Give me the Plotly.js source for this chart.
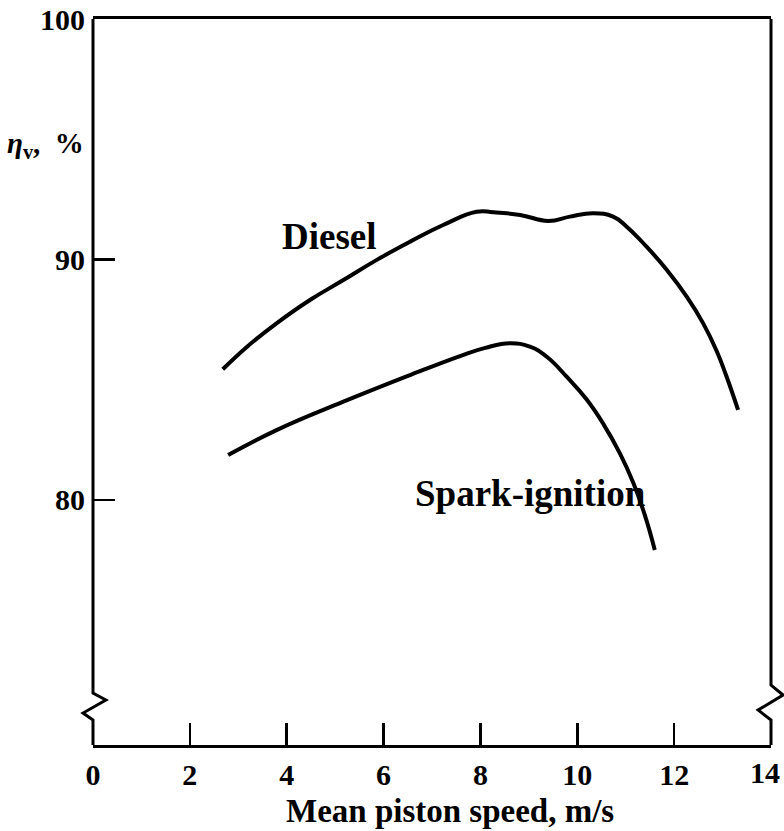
<!DOCTYPE html>
<html>
<head>
<meta charset="utf-8">
<script src="https://cdn.plot.ly/plotly-3.0.1.min.js"></script>
<style>html,body{margin:0;padding:0;background:#fff;}#chart{width:784px;height:831px;}</style>
</head>
<body>
<div id="chart"></div>
<script>
// Data
const dieselSpeed = [2.68, 3.20, 3.79, 4.48, 5.17, 5.86, 6.55, 7.23, 7.92, 8.27, 8.82, 9.40, 9.85, 10.33, 10.74, 11.02, 11.43, 11.85, 12.26, 12.60, 12.88, 13.08, 13.32];
const dieselEff   = [85.43, 86.40, 87.34, 88.31, 89.14, 89.98, 90.74, 91.43, 91.98, 91.96, 91.85, 91.60, 91.78, 91.92, 91.78, 91.36, 90.53, 89.56, 88.45, 87.34, 86.18, 85.14, 83.74];
const sparkSpeed  = [2.79, 3.79, 5.17, 6.55, 7.58, 8.10, 8.61, 9.02, 9.37, 9.78, 10.19, 10.54, 10.88, 11.16, 11.40, 11.60];
const sparkEff    = [81.86, 82.90, 84.08, 85.19, 85.98, 86.32, 86.51, 86.37, 85.95, 85.12, 84.18, 83.15, 81.93, 80.69, 79.33, 77.91];
const xTickVals = [0, 2, 4, 6, 8, 10, 12, 14];
const xTickText = ['0', '2', '4', '6', '8', '10', '12', ''];
const xEndLabel = '14';
const yTickVals = [80, 90, 100];
const yTickText = ['80', '90', '100'];
const curveLabels = [
  {name: 'Diesel', x: 4.89, y: 90.97},
  {name: 'Spark-ignition', x: 9.04, y: 80.28}
];

const FONT = 'Liberation Serif, Times New Roman, serif';
const lineStyle = {color: '#000', width: 4, shape: 'spline', smoothing: 1.3};

const traces = [
  {x: dieselSpeed, y: dieselEff, mode: 'lines', line: lineStyle, hoverinfo: 'skip', showlegend: false},
  {x: sparkSpeed, y: sparkEff, mode: 'lines', line: lineStyle, hoverinfo: 'skip', showlegend: false}
];

const annotations = curveLabels.map(l => ({
  x: l.x, y: l.y, xref: 'x', yref: 'y', text: '<b>' + l.name + '</b>', showarrow: false,
  font: {family: FONT, size: 37, color: '#000'}, xanchor: 'center', yanchor: 'middle'
}));
annotations.push({
  xref: 'paper', yref: 'paper', x: -0.13, y: 0.826, xanchor: 'left', yanchor: 'middle',
  text: '<b><i>η</i><sub>v</sub>,  %</b>', showarrow: false,
  font: {family: FONT, size: 29, color: '#000'}
});
annotations.push({
  xref: 'paper', yref: 'paper', x: 0.526, y: -0.0915, xanchor: 'center', yanchor: 'middle',
  text: '<b>Mean piston speed, m/s</b>', showarrow: false,
  font: {family: FONT, size: 33, color: '#000'}
});
// last x tick label, nudged left so it stays inside the picture
annotations.push({
  xref: 'paper', yref: 'paper', x: 1.0165, y: -0.0385, xanchor: 'right', yanchor: 'middle',
  text: '<b>' + xEndLabel + '</b>', showarrow: false,
  font: {family: FONT, size: 30, color: '#000'}
});

// Frame sides with axis-break zigzags (paper coordinates of the plot area)
const shapes = [
  {type: 'path', xref: 'paper', yref: 'paper', line: {color: '#000', width: 3},
   path: 'M 0 1 L 0 0.0716 L 0.019 0.062 L -0.0147 0.044 L 0 0.0344 L 0 0'},
  {type: 'path', xref: 'paper', yref: 'paper', line: {color: '#000', width: 3},
   path: 'M 1 1 L 1 0.0826 L 1.0177 0.0689 L 0.981 0.0482 L 1 0.0344 L 1 0'}
];

const layout = {
  width: 784, height: 831,
  margin: {l: 93, r: 13, t: 19, b: 86},
  paper_bgcolor: '#fff', plot_bgcolor: '#fff',
  font: {family: FONT, color: '#000'},
  xaxis: {
    range: [0, 14], tickvals: xTickVals, ticktext: xTickText,
    ticks: 'inside', ticklen: 22, tickwidth: 2.5, tickcolor: '#000',
    showline: true, mirror: true, linecolor: '#000', linewidth: 3,
    showgrid: false, zeroline: false, ticklabelstandoff: 1,
    ticklabeloverflow: 'allow',
    tickfont: {family: FONT, size: 30, color: '#000', weight: 'bold'}
  },
  yaxis: {
    range: [69.8, 100], tickvals: yTickVals, ticktext: yTickText,
    ticks: 'inside', ticklen: 22, tickwidth: 2.5, tickcolor: '#000',
    showline: false, showgrid: false, zeroline: false, ticklabelstandoff: 7,
    ticklabeloverflow: 'allow',
    tickfont: {family: FONT, size: 30, color: '#000', weight: 'bold'}
  },
  annotations: annotations,
  shapes: shapes
};

Plotly.newPlot('chart', traces, layout, {staticPlot: true, displayModeBar: false});
</script>
</body>
</html>
